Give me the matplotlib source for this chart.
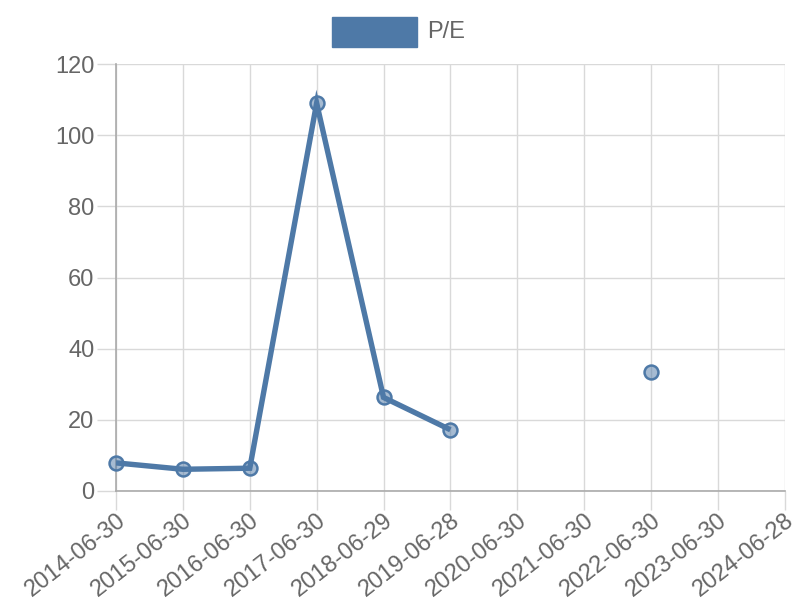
import numpy as np
import matplotlib
matplotlib.use('Agg')
import matplotlib.pyplot as plt
from matplotlib.patches import Rectangle

plt.rcParams['font.family'] = ['Liberation Sans', 'DejaVu Sans']

dates = ['2014-06-30', '2015-06-30', '2016-06-30', '2017-06-30', '2018-06-29',
         '2019-06-28', '2020-06-30', '2021-06-30', '2022-06-30', '2023-06-30',
         '2024-06-28']
pe = [7.9, 6.1, 6.4, 109.0, 26.3, 17.2, np.nan, np.nan, 33.4, np.nan, np.nan]

blue = '#4e79a7'
grid_col = '#d9d9d9'
text_col = '#666666'

fig = plt.figure(figsize=(8, 6), dpi=100)
ax = fig.add_axes([0.145, 0.1817, 0.836, 0.7116])

x = np.arange(len(dates))
ax.plot(x, pe, color=blue, lw=3.9, solid_joinstyle='miter', solid_capstyle='butt', zorder=3)
ax.plot(x, pe, 'o', ms=10, mfc=(78/255, 121/255, 167/255, 0.5), mec=blue, mew=1.8,
        zorder=4, clip_on=False)

ax.set_xlim(0, len(dates) - 1)
ax.set_ylim(0, 120)
ax.set_yticks(range(0, 121, 20))
ax.set_xticks(x)
ax.set_xticklabels(dates, rotation=38, ha='right', rotation_mode='anchor')

ax.grid(True, color=grid_col, lw=1)
ax.set_axisbelow(True)
for s in ['top', 'right']:
    ax.spines[s].set_visible(False)
for s in ['left', 'bottom']:
    ax.spines[s].set_color('#aaaaaa')
    ax.spines[s].set_linewidth(1.2)
ax.tick_params(axis='both', colors=grid_col, labelcolor=text_col, labelsize=17,
               length=13.5, width=1)
ax.tick_params(axis='x', pad=0)
ax.tick_params(axis='y', pad=2)

# legend box on top
fig.patches.append(Rectangle((332 / 800, 1 - 47 / 600), 85 / 800, 30 / 600,
                             transform=fig.transFigure, facecolor=blue,
                             edgecolor=blue, figure=fig))
fig.text(427 / 800, 1 - 32 / 600, 'P/E', color=text_col, fontsize=17, va='center')

fig.savefig('out.png', dpi=100)
